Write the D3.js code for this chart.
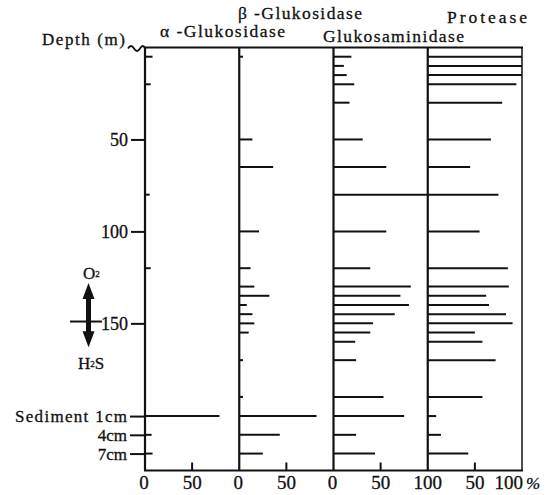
<!DOCTYPE html>
<html>
<head>
<meta charset="utf-8">
<script src="https://cdn.jsdelivr.net/npm/d3@7"></script>
<style>
  body { margin: 0; background: #fff; }
  svg { display: block; }
  svg text { font-family: "Liberation Serif", "Times New Roman", Times, serif !important; fill: #111; stroke: #111; stroke-width: 0.3px; }
</style>
</head>
<body>
<svg id="chart" width="557" height="495"></svg>
<script>
/* enzyme activity in % of the maximum, per depth */
var enzymes = ['α -Glukosidase', 'β -Glukosidase', 'Glukosaminidase', 'Protease'];

var waterDepths = [5, 10, 15, 20, 30, 50, 65, 80, 100, 120, 130, 135, 140, 145, 150, 155, 160, 170, 190];
var alphaWater    = [8, 0, 0, 6, 0, 0, 0, 5, 0, 6, 0, 0, 0, 0, 0, 0, 0, 0, 0];
var betaWater     = [4, 0, 0, 0, 0, 14, 36, 0, 21, 12, 16, 32, 8, 14, 16, 10, 0, 4, 4];
var glucoWater    = [19, 11, 14, 22, 17, 31, 56, 100, 56, 39, 82, 71, 80, 65, 42, 39, 23, 24, 53];
var proteaseWater = [100, 100, 100, 94, 79, 67, 45, 75, 55, 85, 86, 62, 65, 83, 90, 50, 58, 72, 58];

var sedimentDepths = [1, 4, 7];   /* cm */
var sedimentLabels = ['Sediment 1cm', '4cm', '7cm'];
var alphaSed    = [79, 7, 8];
var betaSed     = [82, 43, 25];
var glucoSed    = [75, 24, 44];
var proteaseSed = [9, 14, 43];

var depthTicks = [50, 100, 150];
var pctTicks   = [0, 50];

var waterSeries    = [alphaWater, betaWater, glucoWater, proteaseWater];
var sedimentSeries = [alphaSed, betaSed, glucoSed, proteaseSed];

var SERIF = '"Liberation Serif", "Times New Roman", Times, serif';

var svg = d3.select('#chart').attr('font-family', SERIF);

var y = d3.scaleLinear().domain([0, 230]).range([47.5, 470.5]);
var ySed = d3.scaleLinear().domain([1, 7]).range([y(200.4), y(220.8)]);

var panel = d3.scaleBand().domain(enzymes).range([145, 522]).padding(0);
var bw = panel.bandwidth();
var pct = d3.scaleLinear().domain([0, 100]).range([0, bw]);

var top0 = y(0), bottom = y(230);

/* bars */
enzymes.forEach(function (name, i) {
  var x0 = panel(name);
  var rows = waterDepths.map(function (d, j) {
    return { y: y(d), v: waterSeries[i][j] };
  }).concat(sedimentDepths.map(function (d, j) {
    return { y: ySed(d), v: sedimentSeries[i][j] };
  })).filter(function (r) { return r.v > 0; });

  svg.append('g').selectAll('line')
    .data(rows)
    .enter().append('line')
    .attr('x1', x0)
    .attr('x2', function (r) { return x0 + pct(r.v); })
    .attr('y1', function (r) { return r.y; })
    .attr('y2', function (r) { return r.y; })
    .attr('stroke', '#111')
    .attr('stroke-width', 2);
});

/* frame: panel axes, top and bottom lines */
var frame = svg.append('g').attr('stroke', '#111').attr('fill', 'none');
enzymes.concat(['end']).forEach(function (name) {
  var x = name === 'end' ? panel.range()[1] : panel(name);
  frame.append('line')
    .attr('x1', x).attr('x2', x)
    .attr('y1', top0).attr('y2', bottom)
    .attr('stroke-width', name === 'end' ? 1.5 : 2.2);
});
frame.append('line')
  .attr('x1', 144).attr('x2', 523)
  .attr('y1', top0).attr('y2', top0)
  .attr('stroke-width', 2);
frame.append('line')
  .attr('x1', 144).attr('x2', 523)
  .attr('y1', bottom).attr('y2', bottom)
  .attr('stroke-width', 2);

/* wavy break at the top-left corner */
frame.append('path')
  .attr('d', 'M128,' + (top0 + 1) + ' q3,-5 6,0 t6,0 t5,0')
  .attr('stroke-width', 1.8);

/* bottom ticks and labels */
enzymes.forEach(function (name, i) {
  var x0 = panel(name);
  pctTicks.forEach(function (t) {
    var x = x0 + pct(t);
    if (t === 50) {
      frame.append('line')
        .attr('x1', x).attr('x2', x)
        .attr('y1', bottom).attr('y2', bottom - 8)
        .attr('stroke-width', 2);
    }
    var label = (t === 0 && i === 3) ? '100' : String(t);
    svg.append('text')
      .attr('x', x - (t === 0 && i < 3 ? 1 : 0))
      .attr('y', 489)
      .attr('text-anchor', 'middle')
      .style('font-size', '19px')
      .text(label);
  });
});
svg.append('text')
  .attr('x', 523).attr('y', 489)
  .attr('text-anchor', 'end')
  .style('font-size', '19px')
  .text('100');
svg.append('text')
  .attr('x', 526).attr('y', 489)
  .style('font-size', '17px')
  .style('font-style', 'italic')
  .text('%');

/* depth axis */
var yAxis = d3.axisLeft(y).tickValues(depthTicks).tickSize(14).tickPadding(3);
svg.append('g')
  .attr('transform', 'translate(145,0)')
  .call(yAxis)
  .call(function (g) {
    g.attr('font-family', SERIF);
    g.select('.domain').remove();
    g.selectAll('line').attr('stroke', '#111').attr('stroke-width', 2);
    g.selectAll('text')
      .style('font-size', '18px')
      .attr('fill', '#111');
  });

var sedAxis = d3.axisLeft(ySed).tickValues(sedimentDepths)
  .tickFormat(function (d, j) { return sedimentLabels[j]; })
  .tickSize(15).tickPadding(3);
svg.append('g')
  .attr('transform', 'translate(145,0)')
  .call(sedAxis)
  .call(function (g) {
    g.attr('font-family', SERIF);
    g.select('.domain').remove();
    g.selectAll('line').attr('stroke', '#111').attr('stroke-width', 2);
    g.selectAll('text')
      .style('font-size', '17px')
      .attr('fill', '#111')
      .attr('textLength', function (d, j) { return j === 0 ? 112 : null; })
      .attr('lengthAdjust', 'spacing');
  });

/* titles */
var titleLayout = [
  { x: 160, y: 37, w: 125 },
  { x: 238, y: 19, w: 124 },
  { x: 323, y: 42, w: 141 },
  { x: 447, y: 23, w: 80 }
];
svg.selectAll('.title')
  .data(enzymes)
  .enter().append('text')
  .attr('class', 'title')
  .attr('x', function (d, i) { return titleLayout[i].x; })
  .attr('y', function (d, i) { return titleLayout[i].y; })
  .attr('textLength', function (d, i) { return titleLayout[i].w; })
  .attr('lengthAdjust', 'spacing')
  .style('font-size', '17.5px')
  .text(function (d) { return d; });

svg.append('text')
  .attr('x', 42).attr('y', 45)
  .attr('textLength', 83)
  .attr('lengthAdjust', 'spacing')
  .style('font-size', '17px')
  .text('Depth (m)');

/* O2 / H2S arrow at the redox boundary */
var ax = 88.5, aTop = y(128), aBot = y(163);
svg.append('line')
  .attr('x1', 70).attr('x2', 102)
  .attr('y1', y(149)).attr('y2', y(149))
  .attr('stroke', '#111').attr('stroke-width', 2);
svg.append('line')
  .attr('x1', ax).attr('x2', ax)
  .attr('y1', aTop + 10).attr('y2', aBot - 10)
  .attr('stroke', '#111').attr('stroke-width', 5);
svg.append('path')
  .attr('d', 'M' + ax + ',' + aTop + ' l-6,16 l12,0 z')
  .attr('fill', '#111');
svg.append('path')
  .attr('d', 'M' + ax + ',' + aBot + ' l-6,-16 l12,0 z')
  .attr('fill', '#111');

var o2 = svg.append('text').attr('x', 83).attr('y', 279).style('font-size', '17px');
o2.append('tspan').text('O');
o2.append('tspan').attr('dy', -2).style('font-size', '9px').text('2');

var h2s = svg.append('text').attr('x', 78).attr('y', 369).style('font-size', '17px');
h2s.append('tspan').text('H');
h2s.append('tspan').attr('dy', -2).style('font-size', '9px').text('2');
h2s.append('tspan').attr('dy', 2).text('S');
</script>
</body>
</html>
